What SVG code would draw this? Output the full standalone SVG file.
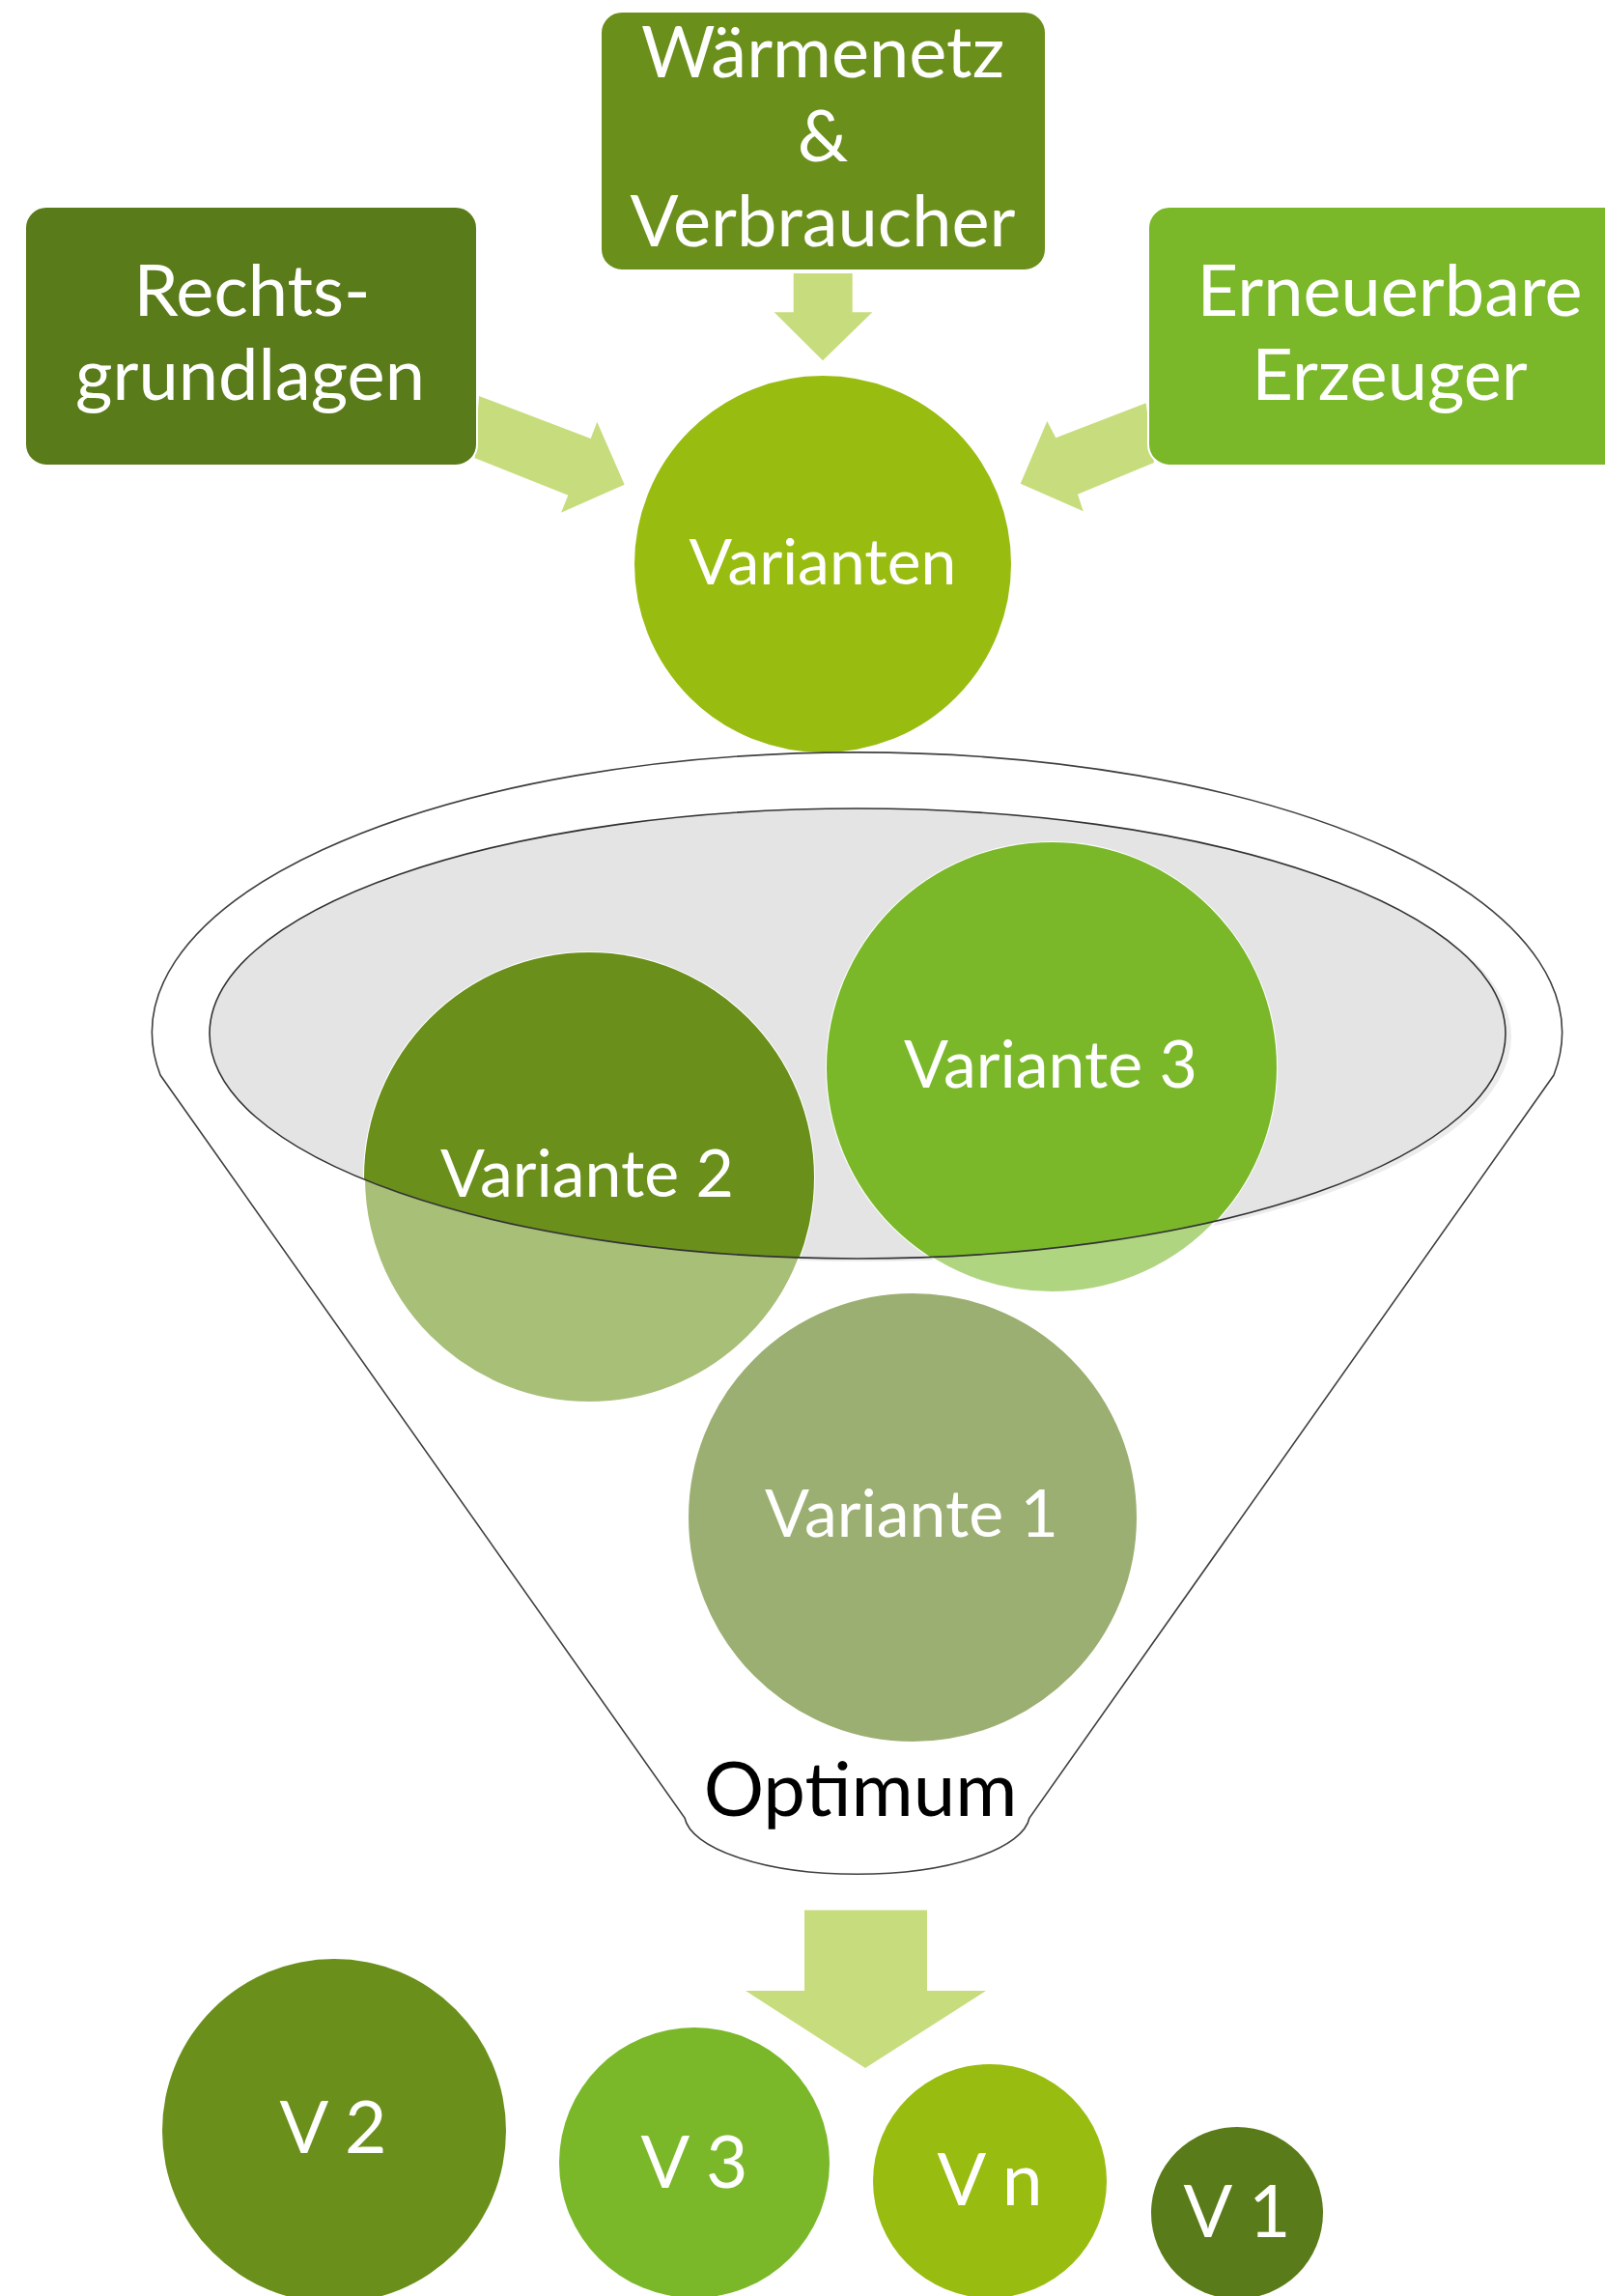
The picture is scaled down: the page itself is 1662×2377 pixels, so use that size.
<svg xmlns="http://www.w3.org/2000/svg" width="1662" height="2377" viewBox="0 0 1662 2377">
<defs>
<style>
.lbl{font-family:Lato,"Liberation Sans",sans-serif;fill:#ffffff;text-anchor:middle;font-size:74px}
.var{font-size:68px}
.vs{font-size:66px}
.big{font-size:75px}
.opt{font-family:Lato,"Liberation Sans",sans-serif;fill:#000000;text-anchor:middle;font-size:78px}
.box{stroke:#ffffff;stroke-width:2}
.arr{fill:#c7dd7d}
.ring{stroke:#ffffff;stroke-width:2}
</style>
<clipPath id="inner"><ellipse cx="888" cy="1070" rx="671" ry="233"/></clipPath>
</defs>
<rect width="1662" height="2377" fill="#ffffff"/>

<g id="connectors">
<polygon class="arr" points="496,410 611.7,454 618.3,436.7 646.7,501.7 581,530.7 588.3,512.7 491.7,474.3"/>
<polygon class="arr" points="1186.7,417.3 1093.3,453.3 1084.3,436 1056.7,500.7 1121.7,529.3 1116,511.7 1195,479"/>
<polygon class="arr" points="821.7,283 882.7,283 882.7,323.3 903.3,323.3 852,373.3 801.7,323.3 821.7,323.3"/>
<polygon class="arr" points="833,1977.5 960,1977.5 960,2061 1021,2061 896,2141 772,2061 833,2061"/>
</g>

<g id="rechtsgrundlagen">
<rect class="box" x="26" y="214" width="468" height="268" rx="22" fill="#5a7b19"/>
<text class="lbl" x="261" y="327">Rechts-</text>
<text class="lbl" x="259" y="414">grundlagen</text>
</g>
<g id="waermenetz">
<rect class="box" x="622" y="12" width="461" height="268" rx="22" fill="#6a8f1a"/>
<text class="lbl" x="852" y="80">Wärmenetz</text>
<text class="lbl" x="852" y="167">&amp;</text>
<text class="lbl" x="852" y="255">Verbraucher</text>
</g>
<g id="erneuerbare">
<rect class="box" x="1189" y="214" width="520" height="268" rx="22" fill="#7ab82a"/>
<text class="lbl" x="1439" y="327">Erneuerbare</text>
<text class="lbl" x="1439" y="414">Erzeuger</text>
</g>
<g id="varianten">
<circle class="ring" cx="852" cy="584" r="196" fill="#99bc10"/>
<text class="lbl vs" x="852" y="605">Varianten</text>
</g>

<g id="funnel">
<path d="M166,1113 A730,290 0 1 1 1609,1113 L1066,1882 A179,63 0 0 1 709,1882 Z" fill="#ffffff" stroke="#404040" stroke-width="1.6"/>
<ellipse cx="894" cy="1073" rx="671" ry="233" fill="#ececec"/>
<ellipse cx="888" cy="1070" rx="671" ry="233" fill="#e4e4e4"/>
</g>

<g id="variante2">
<circle class="ring" cx="610" cy="1219" r="233" fill="#a8bf78"/>
<circle cx="610" cy="1219" r="233" fill="#6a8f1a" clip-path="url(#inner)"/>
</g>
<g id="variante3">
<circle class="ring" cx="1089" cy="1105" r="233" fill="#b0d580"/>
<circle cx="1089" cy="1105" r="233" fill="#7ab82a" clip-path="url(#inner)"/>
</g>
<ellipse id="funnel-rim" cx="888" cy="1070" rx="671" ry="233" fill="none" stroke="#333333" stroke-width="1.6"/>
<text class="lbl var" x="608" y="1239">Variante 2</text>
<text class="lbl var" x="1088" y="1126">Variante 3</text>
<g id="variante1">
<circle class="ring" cx="945" cy="1571" r="233" fill="#9caf72"/>
<text class="lbl var" x="944" y="1591">Variante 1</text>
</g>
<text id="optimum" class="opt" x="891" y="1880">Optimum</text>

<g id="v2">
<circle cx="346" cy="2206" r="178" fill="#6a8f1a"/>
<text class="lbl big" x="345" y="2229">V 2</text>
</g>
<g id="v3">
<circle cx="719" cy="2239" r="140" fill="#7ab82a"/>
<text class="lbl big" x="719" y="2265">V 3</text>
</g>
<g id="vn">
<circle cx="1025" cy="2258" r="121" fill="#99bc10"/>
<text class="lbl big" x="1025" y="2283">V n</text>
</g>
<g id="v1">
<circle cx="1281" cy="2291" r="89" fill="#5a7b19"/>
<text class="lbl big" x="1281" y="2316">V 1</text>
</g>
</svg>
